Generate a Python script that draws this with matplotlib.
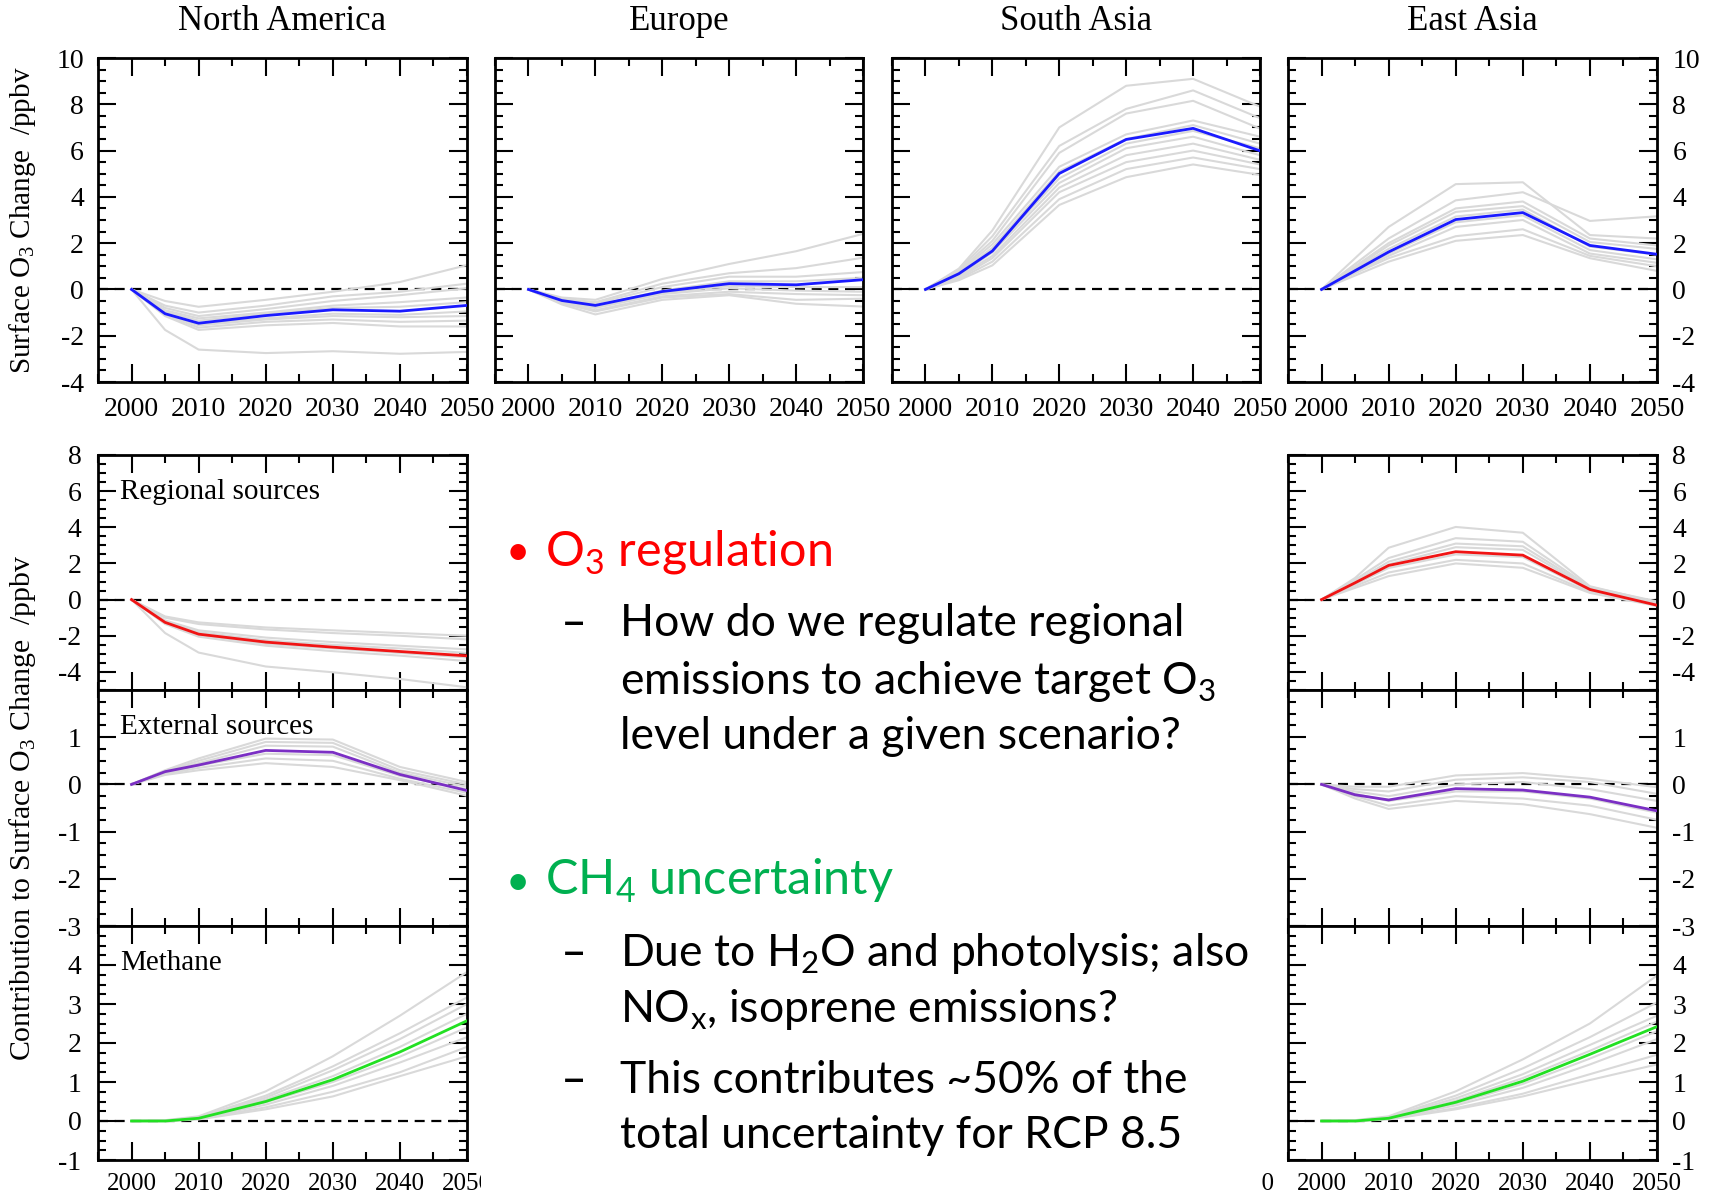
import matplotlib
matplotlib.use("Agg")
import matplotlib.pyplot as plt
from matplotlib.ticker import MultipleLocator
from matplotlib.patches import Rectangle

plt.rcParams["axes.unicode_minus"] = False

W, H, DPI = 1713, 1196, 100

# ---------------------------------------------------------------- data
years = [2000, 2005, 2010, 2020, 2030, 2040, 2050]
regions = ["North America", "Europe", "South Asia", "East Asia"]

# Total surface O3 change (ppbv): ensemble mean and individual members
na_total = [0, -1.05, -1.46, -1.13, -0.88, -0.94, -0.69]
na_members = [
    [0, -0.50, -0.75, -0.45, -0.10, 0.32, 1.05],
    [0, -0.70, -1.00, -0.70, -0.30, -0.10, 0.25],
    [0, -0.80, -1.15, -0.85, -0.50, -0.25, 0.05],
    [0, -0.90, -1.25, -1.00, -0.70, -0.55, -0.35],
    [0, -0.95, -1.35, -1.05, -0.80, -0.75, -0.55],
    [0, -1.00, -1.50, -1.25, -1.05, -1.10, -0.95],
    [0, -1.05, -1.55, -1.30, -1.15, -1.20, -1.15],
    [0, -1.10, -1.65, -1.40, -1.30, -1.40, -1.35],
    [0, -1.15, -1.75, -1.55, -1.45, -1.60, -1.60],
    [0, -1.75, -2.60, -2.75, -2.67, -2.78, -2.70],
]

eu_total = [0, -0.48, -0.69, -0.09, 0.25, 0.20, 0.42]
eu_members = [
    [0, -0.35, -0.45, 0.45, 1.10, 1.65, 2.40],
    [0, -0.40, -0.55, 0.25, 0.70, 0.92, 1.37],
    [0, -0.45, -0.60, 0.10, 0.55, 0.55, 0.75],
    [0, -0.50, -0.70, -0.05, 0.35, 0.35, 0.50],
    [0, -0.50, -0.75, -0.15, 0.15, 0.10, 0.10],
    [0, -0.55, -0.80, -0.20, 0.05, -0.05, -0.10],
    [0, -0.55, -0.90, -0.30, -0.10, -0.20, -0.25],
    [0, -0.60, -0.95, -0.35, -0.20, -0.45, -0.40],
    [0, -0.65, -1.08, -0.45, -0.25, -0.62, -0.74],
]

sa_total = [0, 0.68, 1.66, 5.01, 6.48, 6.96, 5.99]
sa_members = [
    [0, 0.90, 2.55, 7.00, 8.80, 9.10, 7.90],
    [0, 0.85, 2.30, 6.20, 7.80, 8.60, 7.40],
    [0, 0.80, 2.10, 5.90, 7.60, 8.15, 6.95],
    [0, 0.75, 1.95, 5.30, 6.70, 7.30, 6.60],
    [0, 0.70, 1.80, 5.10, 6.50, 7.10, 6.30],
    [0, 0.65, 1.70, 4.80, 6.30, 6.85, 6.10],
    [0, 0.60, 1.60, 4.60, 6.10, 6.60, 5.80],
    [0, 0.55, 1.45, 4.40, 5.80, 6.30, 5.60],
    [0, 0.50, 1.35, 4.20, 5.50, 6.00, 5.40],
    [0, 0.45, 1.20, 3.90, 5.20, 5.70, 5.20],
    [0, 0.40, 1.04, 3.65, 4.85, 5.40, 4.95],
]

ea_total = [0, 0.81, 1.62, 3.02, 3.32, 1.90, 1.52]
ea_members = [
    [0, 1.35, 2.70, 4.55, 4.63, 2.35, 2.20],
    [0, 1.10, 2.20, 3.85, 4.20, 2.96, 3.16],
    [0, 1.00, 2.00, 3.50, 3.80, 2.20, 1.90],
    [0, 0.95, 1.90, 3.35, 3.60, 2.05, 1.75],
    [0, 0.90, 1.75, 3.15, 3.45, 1.85, 1.50],
    [0, 0.80, 1.55, 2.90, 3.20, 1.70, 1.30],
    [0, 0.75, 1.45, 2.70, 3.00, 1.55, 1.15],
    [0, 0.70, 1.35, 2.30, 2.60, 1.45, 1.00],
    [0, 0.60, 1.20, 2.10, 2.35, 1.35, 0.80],
]

# Source contributions (ppbv)
na_regional = [0, -1.26, -1.91, -2.35, -2.63, -2.87, -3.11]
na_regional_members = [
    [0, -0.93, -1.26, -1.54, -1.70, -1.85, -2.00],
    [0, -1.00, -1.35, -1.65, -1.85, -2.00, -2.20],
    [0, -1.15, -1.70, -2.10, -2.35, -2.55, -2.75],
    [0, -1.20, -1.80, -2.25, -2.50, -2.70, -2.95],
    [0, -1.30, -1.95, -2.45, -2.70, -2.95, -3.20],
    [0, -1.35, -2.05, -2.55, -2.85, -3.10, -3.40],
    [0, -1.85, -2.93, -3.70, -4.02, -4.39, -4.85],
]
na_external = [0, 0.27, 0.41, 0.72, 0.68, 0.21, -0.13]
na_external_members = [
    [0, 0.30, 0.55, 0.97, 0.95, 0.37, 0.05],
    [0, 0.28, 0.50, 0.90, 0.88, 0.30, 0.00],
    [0, 0.27, 0.45, 0.82, 0.80, 0.25, -0.05],
    [0, 0.25, 0.40, 0.65, 0.62, 0.18, -0.10],
    [0, 0.22, 0.35, 0.55, 0.50, 0.12, -0.18],
    [0, 0.20, 0.30, 0.45, 0.37, 0.09, -0.24],
]
na_methane = [0, 0.00, 0.07, 0.50, 1.06, 1.77, 2.57]
na_methane_members = [
    [0, 0.02, 0.12, 0.76, 1.66, 2.70, 3.82],
    [0, 0.01, 0.10, 0.65, 1.40, 2.25, 3.17],
    [0, 0.01, 0.10, 0.60, 1.30, 2.10, 3.00],
    [0, 0.00, 0.08, 0.55, 1.15, 1.90, 2.75],
    [0, 0.00, 0.07, 0.48, 1.00, 1.65, 2.40],
    [0, 0.00, 0.06, 0.42, 0.90, 1.50, 2.15],
    [0, 0.00, 0.05, 0.35, 0.75, 1.25, 1.90],
    [0, 0.00, 0.04, 0.30, 0.63, 1.15, 1.66],
]

ea_regional = [0, 0.93, 1.89, 2.65, 2.46, 0.56, -0.31]
ea_regional_members = [
    [0, 1.20, 2.87, 4.02, 3.70, 0.74, -0.15],
    [0, 1.10, 2.30, 3.40, 3.20, 0.70, -0.10],
    [0, 1.00, 2.10, 3.10, 2.95, 0.65, -0.20],
    [0, 0.95, 1.95, 2.90, 2.75, 0.60, -0.25],
    [0, 0.85, 1.75, 2.50, 2.35, 0.50, -0.30],
    [0, 0.75, 1.50, 2.20, 2.00, 0.42, -0.30],
    [0, 0.65, 1.30, 2.00, 1.76, 0.37, -0.35],
]
ea_external = [0, -0.22, -0.33, -0.09, -0.12, -0.27, -0.56]
ea_external_members = [
    [0, -0.05, -0.05, 0.19, 0.24, 0.12, -0.06],
    [0, -0.10, -0.15, 0.10, 0.15, 0.05, -0.20],
    [0, -0.15, -0.25, 0.00, 0.05, -0.10, -0.35],
    [0, -0.20, -0.35, -0.15, -0.15, -0.30, -0.60],
    [0, -0.25, -0.45, -0.25, -0.30, -0.45, -0.75],
    [0, -0.30, -0.52, -0.35, -0.42, -0.63, -0.92],
]
ea_methane = [0, 0.00, 0.07, 0.48, 1.02, 1.71, 2.42]
ea_methane_members = [
    [0, 0.02, 0.12, 0.76, 1.58, 2.50, 3.73],
    [0, 0.01, 0.10, 0.65, 1.35, 2.15, 3.04],
    [0, 0.01, 0.09, 0.58, 1.20, 1.95, 2.70],
    [0, 0.00, 0.08, 0.52, 1.10, 1.80, 2.55],
    [0, 0.00, 0.07, 0.45, 0.95, 1.60, 2.30],
    [0, 0.00, 0.06, 0.40, 0.85, 1.45, 2.10],
    [0, 0.00, 0.05, 0.33, 0.70, 1.20, 1.70],
    [0, 0.00, 0.04, 0.30, 0.63, 1.05, 1.45],
]

source_labels = ["Regional sources", "External sources", "Methane"]

# ---------------------------------------------------------------- style
SERIF = "Liberation Serif"
SANS = "Lato"
C_TOTAL = "#1a1aff"
C_REGIONAL = "#f01414"
C_EXTERNAL = "#7b2fc4"
C_METHANE = "#22e022"
C_MEMBER = "#d9d9d9"
RED_TXT = "#ff0000"
GREEN_TXT = "#00b050"
TICK_FS = 20
BOTTOM_XFS = 18

fig = plt.figure(figsize=(W / DPI, H / DPI), dpi=DPI)


def add_axes_px(left, top, right, bottom):
    return fig.add_axes([left / W, 1 - bottom / H, (right - left) / W, (bottom - top) / H])


def fig_xy(x, y):
    return x / W, 1 - y / H


def draw_panel(ax, total, members, color, ylim, yminor, yticks,
               ylabel_side=None, xlabels=True, hide_top_label=False,
               xpad=11, xfs=TICK_FS):
    ax.axhline(0, color="black", lw=1.6, dashes=(4.5, 3), zorder=1)
    for m in members:
        ax.plot(years, m, color=C_MEMBER, lw=1.5, zorder=2, solid_joinstyle="round")
    ax.plot(years, total, color=color, lw=2.0, zorder=3)
    ax.set_xlim(1995, 2050)
    ax.set_ylim(*ylim)
    ax.xaxis.set_major_locator(MultipleLocator(10))
    ax.xaxis.set_minor_locator(MultipleLocator(5))
    ax.set_yticks(yticks)
    labels = [f"{v:g}" for v in yticks]
    if hide_top_label:
        labels[-1] = ""
    ax.set_yticklabels(labels)
    ax.yaxis.set_minor_locator(MultipleLocator(yminor))
    ax.tick_params(which="both", direction="in", top=True, bottom=True,
                   left=True, right=True, width=1.5)
    ax.tick_params(which="major", length=13)
    ax.tick_params(which="minor", length=6)
    ax.tick_params(axis="x", labelsize=xfs, pad=xpad, labelbottom=xlabels)
    ax.tick_params(axis="y", labelsize=TICK_FS,
                   pad=(11 if ylabel_side == "right" else 10),
                   labelleft=(ylabel_side == "left"),
                   labelright=(ylabel_side == "right"))
    for lab in ax.get_xticklabels() + ax.get_yticklabels():
        lab.set_fontfamily(SERIF)
    for s in ax.spines.values():
        s.set_linewidth(2.0)


# ---------------------------------------------------------------- top row
top_cols = [(98, 467), (495, 863), (892, 1260), (1288, 1657)]
top_totals = [na_total, eu_total, sa_total, ea_total]
top_members = [na_members, eu_members, sa_members, ea_members]
for i, (l, r) in enumerate(top_cols):
    ax = add_axes_px(l, 58, r, 382)
    side = "left" if i == 0 else ("right" if i == 3 else None)
    draw_panel(ax, top_totals[i], top_members[i], C_TOTAL, (-4, 10), 0.5,
               [-4, -2, 0, 2, 4, 6, 8, 10], ylabel_side=side)
    fig.text(*fig_xy((l + r) / 2, 30), regions[i], ha="center", va="baseline",
             fontsize=25, family=SERIF)

fig.text(*fig_xy(23, 220), "Surface O$_\\mathregular{3}$ Change  /ppbv",
         rotation=90, ha="center", va="center", fontsize=21, family=SERIF)

# ---------------------------------------------------------------- source rows
rows = [(455, 690), (690, 926), (926, 1160)]
row_specs = [
    ((-5, 8), 0.5, [-4, -2, 0, 2, 4, 6, 8], False),
    ((-3, 2), 0.25, [-3, -2, -1, 0, 1, 2], True),
    ((-1, 5), 0.25, [-1, 0, 1, 2, 3, 4, 5], True),
]
na_rows = [(na_regional, na_regional_members, C_REGIONAL),
           (na_external, na_external_members, C_EXTERNAL),
           (na_methane, na_methane_members, C_METHANE)]
ea_rows = [(ea_regional, ea_regional_members, C_REGIONAL),
           (ea_external, ea_external_members, C_EXTERNAL),
           (ea_methane, ea_methane_members, C_METHANE)]

for k, (t, b) in enumerate(rows):
    ylim, ymin, yt, hide = row_specs[k]
    last = k == len(rows) - 1
    ax = add_axes_px(98, t, 467, b)
    tot, mem, col = na_rows[k]
    draw_panel(ax, tot, mem, col, ylim, ymin, yt, ylabel_side="left",
               xlabels=last, hide_top_label=hide, xpad=9.3, xfs=BOTTOM_XFS)
    ax.tick_params(axis="y", pad=12)
    ax.text(0.06, 1 - 44 / (b - t), source_labels[k], transform=ax.transAxes,
            ha="left", va="baseline", fontsize=21, family=SERIF)
    ax2 = add_axes_px(1288, t, 1657, b)
    tot, mem, col = ea_rows[k]
    draw_panel(ax2, tot, mem, col, ylim, ymin, yt, ylabel_side="right",
               xlabels=last, hide_top_label=hide, xpad=9.3, xfs=BOTTOM_XFS)

fig.text(*fig_xy(23, 808), "Contribution to Surface O$_\\mathregular{3}$ Change  /ppbv",
         rotation=90, ha="center", va="center", fontsize=21.5, family=SERIF)

# year label of the neighbouring column, mostly hidden behind the text panel
fig.text(*fig_xy(1250, 1160 + 9.3 * DPI / 72), "2050", ha="center", va="top",
         fontsize=BOTTOM_XFS, family=SERIF)

# ---------------------------------------------------------------- text panel
fig.add_artist(Rectangle(fig_xy(481, 1196), (1262 - 481) / W, (1196 - 425) / H,
                         transform=fig.transFigure, facecolor="white",
                         edgecolor="none", zorder=5))

TXT = dict(va="baseline", ha="left", zorder=10)
fig.text(*fig_xy(506, 565), "•", fontsize=30, color=RED_TXT, family=SANS, **TXT)
fig.text(*fig_xy(545, 565), "O$_\\mathregular{3}$ regulation", fontsize=35,
         color=RED_TXT, family=SANS, **TXT)
fig.text(*fig_xy(506, 895), "•", fontsize=30, color=GREEN_TXT, family=SANS, **TXT)
fig.text(*fig_xy(545, 895), "CH$_\\mathregular{4}$ uncertainty", fontsize=35,
         color=GREEN_TXT, family=SANS, **TXT)

body = [
    (636, True, "How do we regulate regional"),
    (694, False, "emissions to achieve target O$_\\mathregular{3}$"),
    (749, False, "level under a given scenario?"),
    (966, True, "Due to H$_\\mathregular{2}$O and photolysis; also"),
    (1022, False, "NO$_\\mathregular{x}$, isoprene emissions?"),
    (1093, True, "This contributes ~50% of the"),
    (1148, False, "total uncertainty for RCP 8.5"),
]
for y, dash, line in body:
    if dash:
        fig.text(*fig_xy(563, y), "–", fontsize=32, color="black",
                 family="DejaVu Sans", **TXT)
    fig.text(*fig_xy(620, y), line, fontsize=32, color="black", family=SANS, **TXT)

fig.savefig("out.png", dpi=DPI, facecolor="white")
